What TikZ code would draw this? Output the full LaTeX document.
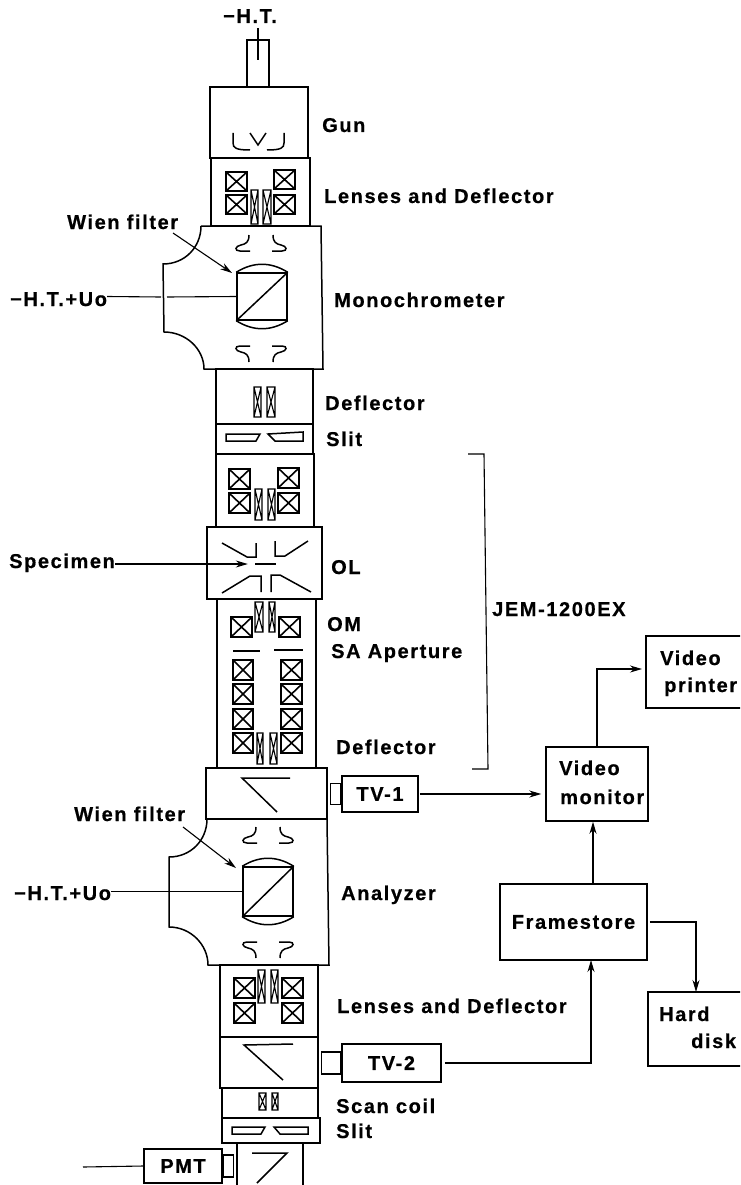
\documentclass[tikz,border=0pt]{standalone}
\usepackage{fontspec}
\usetikzlibrary{arrows.meta,positioning}
\newfontfamily\lblfont[LetterSpace=8,FakeBold=0.6]{Liberation Sans}
\tikzset{
    wall/.style={line width=1.5pt},
    wire/.style={line width=1.1pt},
    tip/.style={-{Stealth[length=12pt,width=7pt]}},
    lbl/.style={anchor=base west, inner sep=0pt, font=\lblfont\bfseries\fontsize{20}{23}\selectfont},
    panel/.style={draw, line width=1.5pt, inner sep=0pt, font=\lblfont\bfseries\fontsize{20}{23}\selectfont},
    filterbox/.style={draw, line width=1.5pt, inner sep=0pt, minimum width=50, minimum height=47}
}
% crossed lens coil and narrow deflector plate, given by two corners
\newcommand{\coilbox}[4]{\draw[line width=1.6pt] (#1,#2) rectangle (#3,#4) (#1,#2) -- (#3,#4) (#1,#4) -- (#3,#2);}
\newcommand{\deflbox}[4]{\draw[line width=1.1pt] (#1,#2) rectangle (#3,#4) (#1,#2) -- (#3,#4) (#3,#2) -- (#1,#4);}
% filter pole pieces: centre x, stem y, 1 opens down, -1 opens up
\newcommand{\polepair}[3]{\foreach \sx in {-1,1} {
    \draw[wall, shift={(#1,#2)}, xscale=\sx, yscale=#3] (-12,0) .. controls (-12,7) and (-15,9) .. (-20,10)
        .. controls (-26,11) and (-27,16) .. (-21,16) -- (-11,16);}}
\begin{document}
\begin{tikzpicture}[x=1pt, y=-1pt]
    \useasboundingbox (0,0) rectangle (740,1185);
    \clip (0,0) rectangle (740,1185);

    % gun and first lenses
    \draw[wall] (247,87) -- (247,40) -- (269,40) -- (269,87);
    \draw[wall] (210,87) rectangle (308,158);
    \draw[wall] (211,158) rectangle (310,226);
    \draw[wall] (233,133) -- (233,143) .. controls (233,148) and (236,150) .. (250,150);
    \draw[wall] (250,133) -- (258,145) -- (266,133);
    \draw[wall] (284,133) -- (284,143) .. controls (284,148) and (281,150) .. (267,150);
    \foreach \xa/\ya in {226/172, 274/170, 226/195, 274/195} {
        \coilbox{\xa}{\ya}{\xa+21}{\ya+19}
    }
    \deflbox{251}{190}{258}{224}
    \deflbox{263}{190}{271}{224}

    % monochrometer
    \draw[wall] (201,226) -- (321,226) -- (323,369) -- (204,369) .. controls (204,349) and (186,332) .. (164,332)
        -- (163,264) .. controls (185,264) and (201,247) .. (201,226);
    \polepair{261}{235}{1}
    \polepair{261}{362}{-1}
    \node[filterbox] (filtA) at (262,296.5) {};
    \draw[wall] (filtA.south west) -- (filtA.north east);
    \draw[wall] (filtA.north west) to[bend left=32] (filtA.north east);
    \draw[wall] (filtA.south west) to[bend right=32] (filtA.south east);

    % deflector, slit, upper lens
    \draw[wall] (216,369) rectangle (313,424);
    \deflbox{254}{387}{261}{417}
    \deflbox{267}{387}{275}{417}
    \draw[wall] (216,424) rectangle (313,454);
    \draw[wall] (226,434) -- (260,434) -- (256,441) -- (226,441) -- cycle;
    \draw[wall] (268,434) -- (303,432) -- (303,441) -- (275,441) -- cycle;
    \draw[wall] (216,454) rectangle (314,527);
    \foreach \xa/\ya in {229/469, 278/468, 229/493, 278/493} {
        \coilbox{\xa}{\ya}{\xa+21}{\ya+20}
    }
    \deflbox{255}{489}{262}{520}
    \deflbox{268}{489}{275}{520}

    % objective lens
    \draw[wall] (207,527) rectangle (322,599);
    \draw[wall] (222,543) -- (247,557) -- (256,557) -- (256,543);
    \draw[wall] (308,541) -- (285,556) -- (275,556) -- (275,541);
    \draw[wall] (222,593) -- (250,576) -- (261,576) -- (261,592);
    \draw[wall] (311,592) -- (280,575) -- (271,575) -- (271,592);
    \node[draw=none, inner sep=0pt, minimum width=21, minimum height=1.2pt, fill] (spec) at (265.5,564) {};

    % intermediate lenses
    \draw[wall] (217,599) rectangle (316,768);
    \deflbox{255}{602}{263}{632}
    \deflbox{269}{602}{275}{632}
    \foreach \xa in {231, 279} {
        \coilbox{\xa}{617}{\xa+21}{637}
    }
    \draw[wall] (233,651) -- (260,651);
    \draw[wall] (274,650) -- (303,650);
    \foreach \ya in {660, 684, 709, 733} {
        \coilbox{233}{\ya}{253}{\ya+20}
        \coilbox{281}{\ya}{302}{\ya+20}
    }
    \deflbox{257}{733}{263}{764}
    \deflbox{270}{733}{277}{764}

    % TV-1 chamber
    \draw[wall] (206,768) rectangle (327,819);
    \draw[wall] (290,778) -- (242,778) -- (277,812);

    % analyzer
    \draw[wall] (207,819) -- (327,819) -- (329,965) -- (208,965) .. controls (208,945) and (191,927) .. (169,927)
        -- (169,857) .. controls (191,857) and (207,840) .. (207,819);
    \polepair{268}{827}{1}
    \polepair{268}{958}{-1}
    \node[filterbox, minimum height=49] (filtB) at (268,891.5) {};
    \draw[wall] (filtB.south west) -- (filtB.north east);
    \draw[wall] (filtB.north west) to[bend left=32] (filtB.north east);
    \draw[wall] (filtB.south west) to[bend right=32] (filtB.south east);

    % lower lenses, TV-2 chamber, scan coil, slit, PMT chamber
    \draw[wall] (220,965) rectangle (318,1037);
    \foreach \xa/\ya in {234/978, 282/978, 234/1003, 282/1003} {
        \coilbox{\xa}{\ya}{\xa+21}{\ya+20}
    }
    \deflbox{258}{970}{265}{1003}
    \deflbox{271}{970}{278}{1003}
    \draw[wall] (220,1037) rectangle (318,1088);
    \draw[wall] (293,1044) -- (244,1045) -- (283,1080);
    \draw[wall] (222,1088) rectangle (318,1118);
    \deflbox{259}{1093}{266}{1110}
    \deflbox{272}{1093}{278}{1110}
    \draw[wall] (222,1118) rectangle (320,1143);
    \draw[wall] (232,1127) -- (265,1127) -- (261,1134) -- (232,1134) -- cycle;
    \draw[wall] (274,1127) -- (308,1127) -- (308,1134) -- (280,1134) -- cycle;
    \draw[wall] (237,1185) -- (237,1143) (303,1143) -- (303,1185);
    \draw[wall] (252,1153) -- (287,1153) -- (257,1183);

    % column labels
    \node[lbl] (ht) at (223,23) {−H.T.};
    \node[lbl] (gun) at (322,132) {Gun};
    \node[lbl] (lensA) at (324,203) {Lenses and Deflector};
    \node[lbl] (mono) at (334,307) {Monochrometer};
    \node[lbl] (deflA) at (325,410) {Deflector};
    \node[lbl] (slitA) at (326,446) {Slit};
    \node[lbl] (ol) at (331,574) {OL};
    \node[lbl] (om) at (327,631) {OM};
    \node[lbl] (sa) at (331,658) {SA Aperture};
    \node[lbl] (deflB) at (336,754) {Deflector};
    \node[lbl] (ana) at (341,900) {Analyzer};
    \node[lbl] (lensB) at (337,1013) {Lenses and Deflector};
    \node[lbl] (scan) at (336,1113) {Scan coil};
    \node[lbl] (slitB) at (336,1138) {Slit};
    \node[lbl] (jem) at (492,616) {JEM-1200EX};
    \node[lbl] (wienA) at (67,229) {Wien filter};
    \node[lbl] (wienB) at (74,821) {Wien filter};
    \node[lbl] (htA) at (10,306) {−H.T.+Uo};
    \node[lbl] (htB) at (14,900) {−H.T.+Uo};
    \node[lbl] (specimen) at (9,568) {Specimen};

    % wires into the column
    \coordinate (stemEnd) at (258,60);
    \draw[wire, shorten <=5pt] (stemEnd |- ht.south) -- (stemEnd);
    \draw[wire] (htA.east |- filtA.west) -- (161,297) (167,297) -- (filtA.west);
    \draw[wire] (htB.east |- filtB.west) -- (filtB.west);
    \coordinate (wienEndA) at (232,273);
    \coordinate (wienEndB) at (236,868);
    \draw[wire, tip] (173,233) -- (wienEndA);
    \draw[wire, tip] (183,827) -- (wienEndB);
    \draw[wire, tip, shorten >=7pt] (specimen.east |- spec.west) -- (spec.west);

    % bracket
    \draw[wire] (468,454) -- (484,454) -- (488,769) -- (472,769);

    % cameras and recording chain
    \node[panel, minimum width=76, minimum height=36] (tv1) at (380,794) {TV-1};
    \node[panel, left=0pt of tv1, minimum width=10, minimum height=21] (tv1lens) {};
    \node[panel, minimum width=99, minimum height=38] (tv2) at (391.5,1063) {TV-2};
    \node[panel, left=0pt of tv2, minimum width=19, minimum height=22] (tv2lens) {};
    \node[panel, minimum width=78, minimum height=34] (pmt) at (183,1166) {PMT};
    \node[panel, right=0pt of pmt, minimum width=10, minimum height=22] (pmtlens) {};
    \node[panel, minimum width=102, minimum height=74] (monitor) at (597,784) {};
    \node[panel, minimum width=114, minimum height=72] (printer) at (703,672) {};
    \node[panel, minimum width=147, minimum height=76] (store) at (573.5,922) {Framestore};
    \node[panel, minimum width=112, minimum height=74] (disk) at (704,1029) {};
    \node[lbl] (vidA) at (559,775) {Video};
    \node[lbl] (mon) at (560,804) {monitor};
    \node[lbl] (vidB) at (660,665) {Video};
    \node[lbl] (prn) at (664,692) {printer};
    \node[lbl] (hard) at (659,1021) {Hard};
    \node[lbl] (dsk) at (691,1048) {disk};

    \coordinate (pmtIn) at (83,1167);
    \coordinate (prnIn) at (646,669);
    \coordinate (upA) at (593,884);
    \coordinate (upB) at (591,960);
    \coordinate (dskIn) at (696,992);
    \draw[wire] (pmtIn) -- (pmt.west);
    \draw[wire, tip, shorten <=1pt, shorten >=4pt] (tv1.east) -- (tv1.east -| monitor.west);
    \draw[wire, tip, shorten >=4pt] (monitor.north) |- (prnIn);
    \draw[wire, tip] (upA) -- (upA |- monitor.south);
    \draw[wire, tip, shorten <=3pt] (tv2.east) -| (upB);
    \draw[wire, tip, shorten <=2pt] (store.east) -| (dskIn);
\end{tikzpicture}
\end{document}
